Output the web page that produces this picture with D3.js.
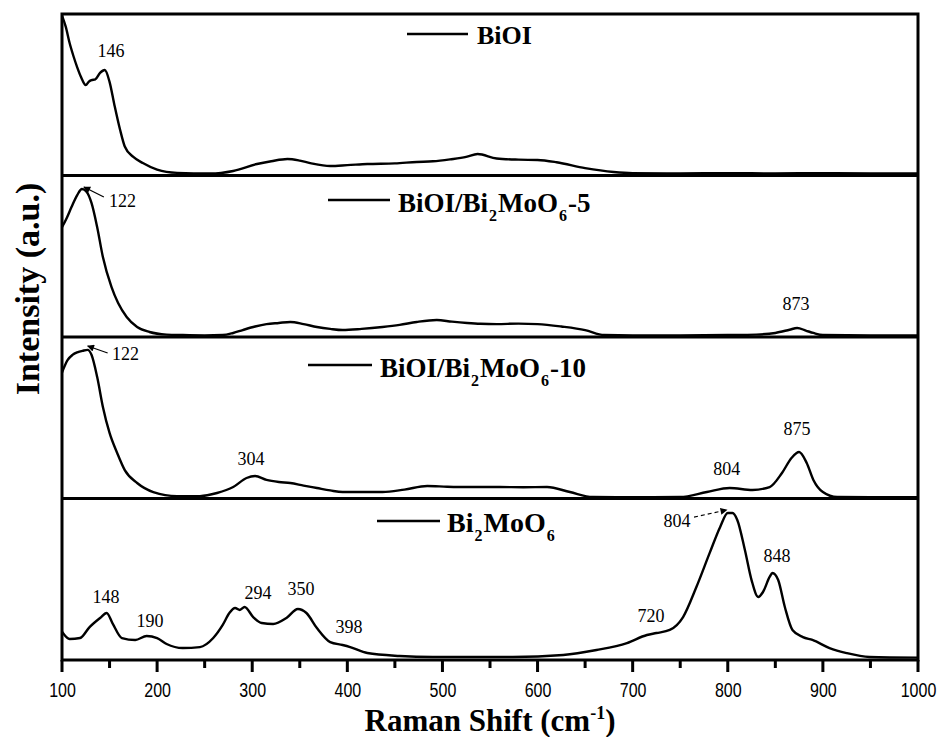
<!DOCTYPE html>
<html><head><meta charset="utf-8">
<script src="https://cdn.jsdelivr.net/npm/d3@7"></script>
<style>
html,body{margin:0;padding:0;background:#fff;}
svg{display:block;}
</style></head>
<body>
<svg id="chart" width="943" height="737"></svg>
<script>
// ---------------- DATA ----------------
const xTicks = [100,200,300,400,500,600,700,800,900,1000];
const xMinorTicks = [150,250,350,450,550,650,750,850,950];

const biOI_shift = [100,104,108,112,116,120,125,128,131,135,140,145,150,155,161,166,175,185,200,221,256,280,305,320,337,350,361,382,400,421,450,473,490,508,525,537,557,580,600,620,650,680,700,750,800,850,900,950,1000];
const biOI_int   = [99,92,82,74,67,61,56,58,59,59.5,63.5,65.3,58,44,28.5,18,11.5,7.7,3.6,1.6,1.2,2.8,7.1,8.8,10.2,9.2,7.7,5.9,6.4,7.1,7.5,8.4,8.8,10,11.5,13.3,10.5,9.8,9.6,8.2,4.6,2.2,1.5,1.3,1.4,1.3,1.4,1.3,1.3];

const bm5_shift = [100,105,110,116,121,126,131,137,143,152,159,168,179,192,210,227,250,269,280,290,303,315,328,340,354,368,382,395,415,437,455,473,494,510,526,540,557,580,600,625,650,670,700,750,800,830,850,865,873,882,890,900,950,1000];
const bm5_int   = [68,73.7,80.5,87.9,91.6,89.8,83,68,49.5,31,21,12.4,6.2,3.1,1.5,1.2,1.0,1.2,2.5,4.3,6.5,8.0,8.7,9.3,8.0,6.2,5.0,4.3,5.0,6.2,7.5,9.3,10.5,9.5,8.7,8.2,8.0,8.3,8.0,6.5,4.3,1.2,1.0,1.0,1.2,1.5,2.5,4.5,5.6,4.0,2.5,1.2,1.0,1.0];

const bm10_shift = [100,106,111,116,122,127,131,137,143,150,158,166,179,196,221,245,263,280,294,303,315,328,340,354,368,382,395,437,460,484,505,526,560,585,610,634,658,700,750,778,802,826,844,857,867,875,883,890,900,915,950,1000];
const bm10_int   = [78,85.8,88.9,90.5,91.5,92,89,75.2,56.7,40.6,28.2,17.6,9.6,4.0,1.5,1.5,3.4,7.1,12.7,13.9,11.5,10.2,9.6,8.0,6.5,5.0,4.0,4.0,5.5,7.7,7.3,7.1,7.1,7.0,7.1,4.0,0.9,0.8,0.9,4.0,6.5,5.3,7.1,15.8,25.1,28.8,22,11.5,4.0,0.9,0.8,0.8];

const bmo_shift = [100,108,119,129,140,147,153,163,177,189,200,210,227,245,259,269,276,282,287,292,301,310,322,336,348,357,368,382,395,403,421,455,490,574,627,662,694,715,725,739,753,767,781,792,800,805,810,818,825,832,837,844,847,853,860,868,879,889,907,925,949,1000];
const bmo_int   = [17.5,13,13.6,20.4,26,29.1,22.9,13.6,12.4,14.9,13.6,9.9,7.4,8.0,13.6,21.7,29.1,32.2,31,32.8,26.6,22.9,22.3,26,31.6,29.1,19.8,11.1,9.3,8.0,4.3,2.5,1.9,1.9,3.1,6.2,10.5,15.5,16.7,18.6,26.6,45.2,66.3,82.4,91,91,86.7,68.1,49.5,39,42.1,51.4,53.9,49.5,32.8,18.6,14.2,12.4,7.4,4.3,1.9,1.5];

const seriesNames = ["BiOI","BiOI/Bi2MoO6-5","BiOI/Bi2MoO6-10","Bi2MoO6"];

// peak labels: [panel, label, shift, intensity]
const peakLabels = [
  [0,"146",151.5,73.4],
  [1,"873",871.7,16.7],
  [2,"304",298.7,20.7],
  [2,"804",799,14.6],
  [2,"875",872.8,39.3],
  [3,"148",146.3,35.3],
  [3,"190",192.5,20.4],
  [3,"294",306,37.8],
  [3,"350",351.3,40.2],
  [3,"398",401.8,16.7],
  [3,"720",719.3,23.5],
  [3,"848",851.8,60.7]
];
// arrowed labels: [panel, label, textShift, textInt, fromShift, fromInt, toShift, toInt, dashed]
const arrowLabels = [
  [1,"122",149.4,80.5,144,86.7,123,92.9,false],
  [2,"122",152.6,85.8,148,90.1,127,94.4,false],
  [3,"804",746.6,82.4,764.5,88.5,799,92.9,true]
];

// ---------------- LAYOUT ----------------
const L = 62, R = 918, T = 14, B = 660;
const nP = 4, ph = (B - T) / nP;
const svg = d3.select("#chart");
const x = d3.scaleLinear().domain([100,1000]).range([L,R]);
const ys = d3.range(nP).map(i => d3.scaleLinear().domain([0,100]).range([T+(i+1)*ph, T+i*ph]));

const serif = "'Liberation Serif','Times New Roman',serif";

const defs = svg.append("defs");
defs.append("marker")
  .attr("id","ah").attr("viewBox","0 0 10 10").attr("refX",9).attr("refY",5)
  .attr("markerWidth",10).attr("markerHeight",7).attr("markerUnits","userSpaceOnUse")
  .attr("orient","auto")
  .append("path").attr("d","M0,0 L10,5 L0,10 z").attr("fill","#000");

ys.forEach((y,i) => {
  defs.append("clipPath").attr("id","clip"+i).append("rect")
    .attr("x",L).attr("y",T+i*ph).attr("width",R-L).attr("height",ph);
});

// curves
const allSeries = [[biOI_shift,biOI_int],[bm5_shift,bm5_int],[bm10_shift,bm10_int],[bmo_shift,bmo_int]];
allSeries.forEach(([xs,vs],i) => {
  const pts = xs.map((d,k)=>[d,vs[k]]);
  const line = d3.line().x(d=>x(d[0])).y(d=>ys[i](d[1])).curve(d3.curveMonotoneX);
  svg.append("path").datum(pts).attr("d",line)
    .attr("fill","none").attr("stroke","#000").attr("stroke-width",2.4)
    .attr("stroke-linejoin","round").attr("clip-path","url(#clip"+i+")");
});

// frame and dividers
svg.append("rect").attr("x",L).attr("y",T).attr("width",R-L).attr("height",B-T)
  .attr("fill","none").attr("stroke","#000").attr("stroke-width",3);
for (let i=1;i<nP;i++){
  svg.append("line").attr("x1",L).attr("x2",R).attr("y1",T+i*ph).attr("y2",T+i*ph)
    .attr("stroke","#000").attr("stroke-width",3);
}

// x axis ticks (drawn from the scale)
const tickPath = xTicks.map(d=>`M${x(d)},${B}V${B+12}`).join("") +
                 xMinorTicks.map(d=>`M${x(d)},${B}V${B+8}`).join("");
svg.append("path").attr("d",tickPath).attr("fill","none")
  .attr("stroke","#000").attr("stroke-width",3);

const gx = svg.append("g").attr("transform",`translate(0,${B})`);
gx.call(d3.axisBottom(x).tickValues(xTicks).tickSize(0).tickPadding(23).tickFormat(d3.format("d")));
gx.select(".domain").remove();
gx.selectAll(".tick line").remove();
gx.selectAll(".tick text").attr("fill","#000")
  .style("font-family","'Liberation Sans',Arial,sans-serif").style("font-size","20px")
  .attr("transform","scale(0.8,1)")
  .attr("dy",null).attr("y",37);

// axis titles
const xt = svg.append("text").attr("x",(L+R)/2).attr("y",731).attr("text-anchor","middle")
  .style("font-family",serif).style("font-weight","bold").style("font-size","31px");
xt.append("tspan").text("Raman Shift (cm");
xt.append("tspan").attr("dy",-12).style("font-size","18px").text("-1");
xt.append("tspan").attr("dy",12).text(")");

svg.append("text").attr("transform",`translate(39,289) rotate(-90)`)
  .attr("text-anchor","middle")
  .style("font-family",serif).style("font-weight","bold").style("font-size","34px")
  .text("Intensity (a.u.)");

// legends
const legendPos = [
  {x1:407,x2:468,ly:34,tx:477,ty:44,fs:26},
  {x1:328,x2:390,ly:200,tx:398,ty:212,fs:27},
  {x1:308,x2:372,ly:365,tx:380,ty:377,fs:27},
  {x1:377,x2:440,ly:521,tx:447,ty:532,fs:28}
];
const legendParts = [
  [["BiOI",0]],
  [["BiOI/Bi",0],["2",1],["MoO",0],["6",1],["-5",0]],
  [["BiOI/Bi",0],["2",1],["MoO",0],["6",1],["-10",0]],
  [["Bi",0],["2",1],["MoO",0],["6",1]]
];
legendPos.forEach((p,i)=>{
  svg.append("line").attr("x1",p.x1).attr("x2",p.x2).attr("y1",p.ly).attr("y2",p.ly)
    .attr("stroke","#000").attr("stroke-width",2.5);
  const t = svg.append("text").attr("x",p.tx).attr("y",p.ty)
    .style("font-family",serif).style("font-weight","bold").style("font-size",p.fs+"px");
  let sub = false;
  legendParts[i].forEach(([s,isSub])=>{
    const ts = t.append("tspan").text(s);
    if (isSub && !sub){ ts.attr("dy",9).attr("dx",1).style("font-size","16px"); sub=true; }
    else if (!isSub && sub){ ts.attr("dy",-9).attr("dx",1); sub=false; }
  });
});

// peak labels
peakLabels.forEach(([pi,lab,sx,iv])=>{
  svg.append("text").attr("x",x(sx)).attr("y",ys[pi](iv)).attr("text-anchor","middle")
    .style("font-family",serif).style("font-size","18px").text(lab);
});
arrowLabels.forEach(([pi,lab,tx,tv,fx,fv,ex,ev,dashed])=>{
  svg.append("text").attr("x",x(tx)).attr("y",ys[pi](tv)).attr("text-anchor", dashed?"middle":"start")
    .style("font-family",serif).style("font-size","18px").text(lab);
  svg.append("line").attr("x1",x(fx)).attr("y1",ys[pi](fv)).attr("x2",x(ex)).attr("y2",ys[pi](ev))
    .attr("stroke","#000").attr("stroke-width",1.2)
    .attr("stroke-dasharray",dashed?"4,3":null)
    .attr("marker-end","url(#ah)");
});
</script>
</body></html>
